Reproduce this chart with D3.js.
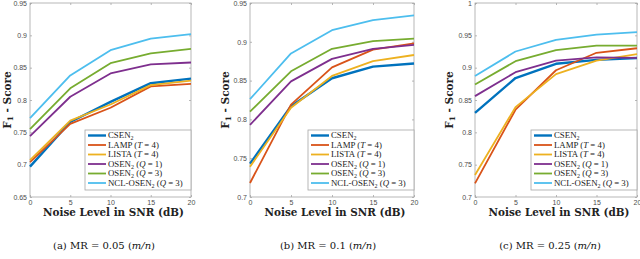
<!DOCTYPE html>
<html>
<head>
<meta charset="utf-8">
<script src="https://cdn.jsdelivr.net/npm/d3@7"></script>
<style>
  html, body { margin: 0; padding: 0; background: #fff; }
  svg { display: block; }
  .tick-label { font-family: "Liberation Sans", Arial, sans-serif; font-size: 7px; fill: #4d4d4d; }
  .serif { font-family: "Liberation Serif", "Times New Roman", serif; }
  .wide-serif { font-family: "DejaVu Serif", serif; }
</style>
</head>
<body>
<div id="chart"></div>
<script>
  'use strict';

  // x values shared by all three panels
  var snrLevels = [0, 5, 10, 15, 20];

  // series order: CSEN2, LAMP, LISTA, OSEN2 Q=1, OSEN2 Q=3, NCL-OSEN2 Q=3
  var seriesColors = ['#0072BD', '#D95319', '#EDB120', '#7E2F8E', '#77AC30', '#4DBEEE'];
  var seriesWidths = [2.4, 1.8, 1.8, 1.8, 1.8, 1.8];

  // F1 scores
  var scoresMr005 = [
    [0.697, 0.766, 0.797, 0.826, 0.833],
    [0.704, 0.763, 0.788, 0.821, 0.825],
    [0.707, 0.768, 0.793, 0.823, 0.830],
    [0.744, 0.805, 0.841, 0.855, 0.858],
    [0.755, 0.818, 0.857, 0.872, 0.879],
    [0.772, 0.838, 0.877, 0.895, 0.902]
  ];
  var scoresMr01 = [
    [0.743, 0.817, 0.853, 0.868, 0.872],
    [0.718, 0.819, 0.867, 0.890, 0.898],
    [0.739, 0.815, 0.856, 0.875, 0.883],
    [0.793, 0.849, 0.878, 0.891, 0.896],
    [0.810, 0.862, 0.891, 0.901, 0.904],
    [0.826, 0.885, 0.915, 0.928, 0.934]
  ];
  var scoresMr025 = [
    [0.830, 0.884, 0.906, 0.912, 0.915],
    [0.721, 0.835, 0.896, 0.923, 0.930],
    [0.734, 0.839, 0.890, 0.911, 0.921],
    [0.856, 0.893, 0.911, 0.916, 0.915],
    [0.874, 0.910, 0.927, 0.934, 0.934],
    [0.887, 0.925, 0.943, 0.951, 0.955]
  ];

  var yTicksMr005 = [0.65, 0.7, 0.75, 0.8, 0.85, 0.9, 0.95];
  var yTicksMr01 = [0.7, 0.75, 0.8, 0.85, 0.9, 0.95];
  var yTicksMr025 = [0.7, 0.75, 0.8, 0.85, 0.9, 0.95, 1];

  ////////////////////////////////////////////////////////////////////////////////////

  var width = 640, height = 259;
  var plotTop = 3, plotBottom = 197;
  var axisGray = '#a6a6a6';

  var svg = d3.select('#chart').append('svg')
    .attr('width', width)
    .attr('height', height);

  // legend text pieces, 'sub' = subscript, 'it' = italic
  var legendParts = [
    [['CSEN'], ['2', 'sub']],
    [['LAMP ('], ['T', 'it'], [' = 4)']],
    [['LISTA ('], ['T', 'it'], [' = 4)']],
    [['OSEN'], ['2', 'sub'], [' ('], ['Q', 'it'], [' = 1)']],
    [['OSEN'], ['2', 'sub'], [' ('], ['Q', 'it'], [' = 3)']],
    [['NCL-OSEN'], ['2', 'sub'], [' ('], ['Q', 'it'], [' = 3)']]
  ];

  function legendLabel(text, i) {
    var afterSub = false;
    legendParts[i].forEach(function (p) {
      var ts = text.append('tspan').text(p[0]);
      if (p[1] === 'sub') ts.attr('font-size', '6px').attr('dy', 2);
      else if (p[1] === 'it') ts.attr('font-style', 'italic');
      if (afterSub) ts.attr('dy', -2);
      afterSub = p[1] === 'sub';
    });
  }

  function styleTicks(a) {
    a.select('.domain').remove();
    a.selectAll('line').attr('stroke', axisGray).attr('stroke-width', 0.8);
  }

  function drawPanel(cfg) {
    var x = d3.scaleLinear().domain([0, 20]).range([cfg.left, cfg.right]);
    var y = d3.scaleLinear().domain(cfg.yDomain).range([plotBottom, plotTop]);
    var g = svg.append('g');
    var fmt = function (d) { return String(+d.toFixed(2)); };

    // box
    g.append('rect')
      .attr('x', cfg.left).attr('y', plotTop)
      .attr('width', cfg.right - cfg.left).attr('height', plotBottom - plotTop)
      .attr('fill', 'none').attr('stroke', axisGray).attr('stroke-width', 0.8);

    // axes with ticks pointing inwards
    var xAxis = g.append('g').attr('transform', 'translate(0,' + plotBottom + ')')
      .call(d3.axisBottom(x).tickValues(snrLevels).tickSize(-2).tickPadding(3).tickFormat(fmt));
    var yAxis = g.append('g').attr('transform', 'translate(' + cfg.left + ',0)')
      .call(d3.axisLeft(y).tickValues(cfg.yTicks).tickSize(-2).tickPadding(3).tickFormat(fmt));
    [xAxis, yAxis].forEach(function (a) {
      styleTicks(a);
      a.selectAll('text').attr('class', 'tick-label').attr('font-family', null).attr('font-size', null).attr('fill', null);
    });
    // mirrored ticks on top and right
    g.append('g').attr('transform', 'translate(0,' + plotTop + ')')
      .call(d3.axisTop(x).tickValues(snrLevels).tickSize(-2).tickFormat(''))
      .call(styleTicks);
    g.append('g').attr('transform', 'translate(' + cfg.right + ',0)')
      .call(d3.axisRight(y).tickValues(cfg.yTicks).tickSize(-2).tickFormat(''))
      .call(styleTicks);

    // series lines
    var line = d3.line()
      .x(function (d, i) { return x(snrLevels[i]); })
      .y(function (d) { return y(d); });
    cfg.scores.forEach(function (s, i) {
      g.append('path')
        .attr('d', line(s))
        .attr('fill', 'none')
        .attr('stroke', seriesColors[i])
        .attr('stroke-width', seriesWidths[i])
        .attr('stroke-linejoin', 'round');
    });

    // legend in the lower right corner
    var lw = 106, lh = 60;
    var lx = cfg.right - lw, ly = 130;
    var legend = g.append('g').attr('transform', 'translate(' + lx + ',' + ly + ')');
    legend.append('rect')
      .attr('width', lw).attr('height', lh)
      .attr('fill', '#fff').attr('stroke', axisGray).attr('stroke-width', 0.8);
    seriesColors.forEach(function (c, i) {
      var ry = 5.5 + i * 9.5;
      legend.append('line')
        .attr('x1', 3).attr('x2', 21).attr('y1', ry).attr('y2', ry)
        .attr('stroke', c).attr('stroke-width', seriesWidths[i]);
      var t = legend.append('text')
        .attr('class', 'serif')
        .attr('x', 23).attr('y', ry + 2.8)
        .attr('font-size', '8.8px').attr('fill', '#222');
      legendLabel(t, i);
    });

    // axis titles
    g.append('text')
      .attr('class', 'wide-serif')
      .attr('x', (cfg.left + cfg.right) / 2 + 3).attr('y', 216)
      .attr('text-anchor', 'middle')
      .attr('font-size', '10.4px').attr('font-weight', 'bold').attr('fill', '#222')
      .text('Noise Level in SNR (dB)');

    var yl = g.append('text')
      .attr('class', 'wide-serif')
      .attr('transform', 'translate(' + cfg.yLabelX + ',' + (plotTop + plotBottom) / 2 + ') rotate(-90)')
      .attr('text-anchor', 'middle')
      .attr('font-size', '10.5px').attr('font-weight', 'bold').attr('fill', '#222');
    yl.append('tspan').text('F');
    yl.append('tspan').text('1').attr('font-size', '7.5px').attr('dy', 2);
    yl.append('tspan').text(' - Score').attr('dy', -2);

    // caption under the panel
    var cap = svg.append('text')
      .attr('class', 'wide-serif')
      .attr('x', cfg.captionX).attr('y', 249)
      .attr('text-anchor', 'middle')
      .attr('font-size', '10px').attr('fill', '#111');
    cap.append('tspan').text(cfg.caption + ' (');
    cap.append('tspan').text('m/n').attr('font-style', 'italic');
    cap.append('tspan').text(')');
  }

  ////////////////////////////////////////////////////////////////////////////////////

  drawPanel({ left: 30, right: 191, yDomain: [0.65, 0.95], yTicks: yTicksMr005, scores: scoresMr005,
              yLabelX: 11, captionX: 104, caption: '(a) MR = 0.05' });
  drawPanel({ left: 250, right: 414, yDomain: [0.7, 0.95], yTicks: yTicksMr01, scores: scoresMr01,
              yLabelX: 229, captionX: 328, caption: '(b) MR = 0.1' });
  drawPanel({ left: 475, right: 637, yDomain: [0.7, 1], yTicks: yTicksMr025, scores: scoresMr025,
              yLabelX: 453, captionX: 550, caption: '(c) MR = 0.25' });
</script>
</body>
</html>
